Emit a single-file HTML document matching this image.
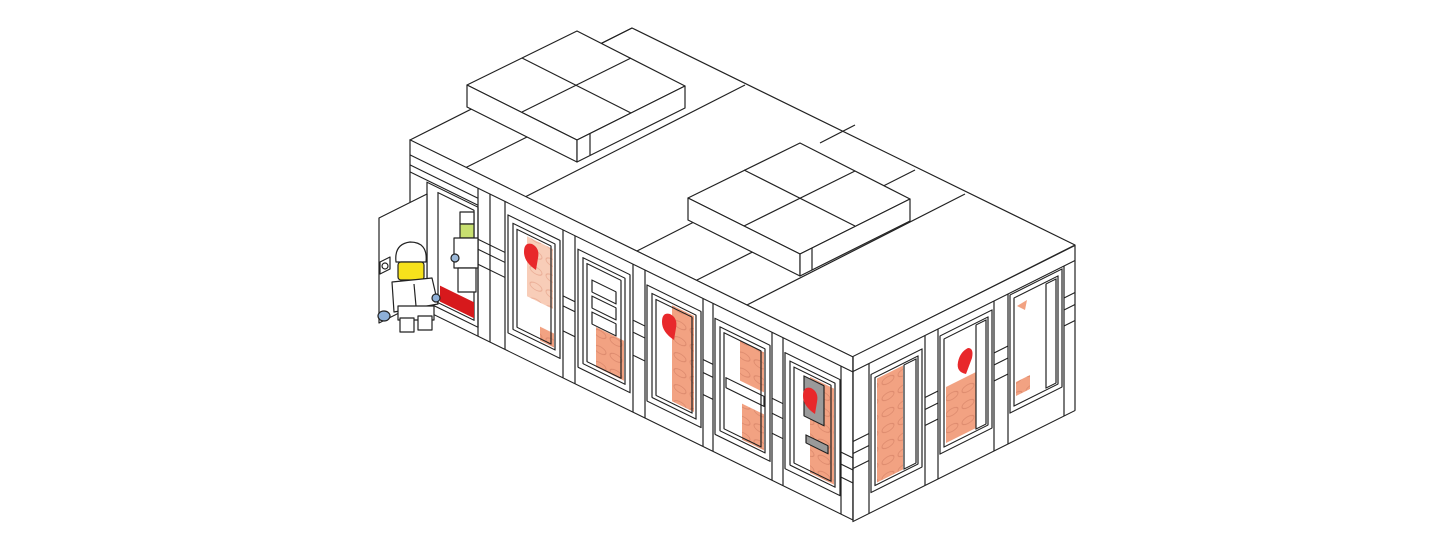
<!DOCTYPE html>
<html><head><meta charset="utf-8"><style>
html,body{margin:0;padding:0;background:#fff;}
svg{display:block;}
</style></head><body>
<svg width="1456" height="546" viewBox="0 0 1456 546" xmlns="http://www.w3.org/2000/svg" fill="none" stroke="#222" stroke-width="1.2" stroke-linejoin="round">
<defs>
<pattern id="studs" width="16" height="16" patternUnits="userSpaceOnUse">
<rect width="16" height="16" fill="#f2a282" stroke="none"/>
<ellipse cx="8" cy="8" rx="6" ry="3.5" fill="none" stroke="#d9866a" stroke-width="0.8"/>
</pattern>
<pattern id="studsl" width="16" height="16" patternUnits="userSpaceOnUse">
<rect width="16" height="16" fill="#f8cdb8" stroke="none"/>
<ellipse cx="8" cy="8" rx="6" ry="3.5" fill="none" stroke="#e8a890" stroke-width="0.8"/>
</pattern>
</defs>

<!-- Roof -->
<polygon points="410,140 632,28 1075,245 853,357" fill="#fff"/>
<line x1="465" y1="168" x2="577" y2="112"/>
<line x1="525" y1="197" x2="745" y2="85"/>
<line x1="635" y1="252" x2="745" y2="196"/>
<line x1="695" y1="281" x2="915" y2="170"/>
<line x1="745" y1="306" x2="965" y2="194"/>
<line x1="820" y1="143" x2="855" y2="125"/>
<line x1="600" y1="44" x2="632" y2="28"/>

<!-- Raised block 1 -->
<polygon points="467,85 577,31 685,86 577,140" fill="#fff"/>
<polygon points="467,85 577,140 577,162 467,107" fill="#fff"/>
<polygon points="577,140 685,86 685,108 577,162" fill="#fff"/>
<line x1="522" y1="58" x2="631" y2="113"/>
<line x1="522" y1="112" x2="631" y2="58"/>
<line x1="590" y1="155" x2="590" y2="133"/>
<!-- Raised block 2 -->
<polygon points="688,198 800,143 910,199 800,254" fill="#fff"/>
<polygon points="688,198 800,254 800,276 688,220" fill="#fff"/>
<polygon points="800,254 910,199 910,221 800,276" fill="#fff"/>
<line x1="744" y1="170" x2="855" y2="226"/>
<line x1="744" y1="226" x2="855" y2="171"/>
<line x1="812" y1="270" x2="812" y2="248"/>

<!-- Long (left) face: y' = y - 0.49x -->
<g transform="matrix(1,0.49,0,1,0,0)">
<rect x="410" y="-61" width="443" height="163" fill="#fff"/>
<line x1="410" y1="-46" x2="853" y2="-46"/>
<line x1="410" y1="-36" x2="478" y2="-36"/>
<line x1="410" y1="-29" x2="478" y2="-29"/>
<!-- doorway -->
<rect x="427" y="-27" width="51" height="120" fill="#fff"/>
<rect x="438" y="-22" width="36" height="110" fill="#fff"/>
<polygon points="440,70 474,70 474,86 440,86" fill="#d7191c" stroke="none"/>
<!-- pillars -->
<line x1="478" y1="-46" x2="478" y2="102"/>
<line x1="490" y1="-46" x2="490" y2="102"/>
<line x1="505" y1="-46" x2="505" y2="102"/>
<line x1="563" y1="-46" x2="563" y2="102"/>
<line x1="575" y1="-46" x2="575" y2="102"/>
<line x1="633" y1="-46" x2="633" y2="102"/>
<line x1="645" y1="-46" x2="645" y2="102"/>
<line x1="703" y1="-46" x2="703" y2="102"/>
<line x1="713" y1="-46" x2="713" y2="102"/>
<line x1="772" y1="-46" x2="772" y2="102"/>
<line x1="783" y1="-46" x2="783" y2="102"/>
<line x1="841" y1="-46" x2="841" y2="102"/>
<!-- band lines -->
<g>
<line x1="478" y1="5" x2="505" y2="5"/><line x1="478" y1="15" x2="505" y2="15"/><line x1="478" y1="30" x2="505" y2="30"/>
<line x1="563" y1="20" x2="575" y2="20"/><line x1="563" y1="30" x2="575" y2="30"/><line x1="563" y1="55" x2="575" y2="55"/>
<line x1="633" y1="10" x2="645" y2="10"/><line x1="633" y1="22" x2="645" y2="22"/><line x1="633" y1="45" x2="645" y2="45"/>
<line x1="703" y1="15" x2="713" y2="15"/><line x1="703" y1="28" x2="713" y2="28"/><line x1="703" y1="50" x2="713" y2="50"/>
<line x1="772" y1="20" x2="783" y2="20"/><line x1="772" y1="35" x2="783" y2="35"/><line x1="772" y1="55" x2="783" y2="55"/>
<line x1="841" y1="40" x2="853" y2="40"/><line x1="841" y1="52" x2="853" y2="52"/><line x1="841" y1="65" x2="853" y2="65"/>
</g>
<!-- windows -->
<g>
<rect x="508" y="-34" width="52" height="118" fill="#fff"/>
<rect x="513" y="-28" width="42" height="106" fill="#fff"/>
<rect x="527" y="-22" width="26" height="60" fill="url(#studsl)" stroke="none"/>
<rect x="540" y="62" width="14" height="14" fill="url(#studs)" stroke="none"/>
<rect x="517" y="-24" width="34" height="98"/>

<rect x="578" y="-34" width="52" height="118" fill="#fff"/>
<rect x="583" y="-28" width="42" height="106" fill="#fff"/>
<rect x="596" y="35" width="28" height="40" fill="url(#studs)" stroke="none"/>
<rect x="592" y="-10" width="24" height="12"/><rect x="592" y="6" width="24" height="12"/><rect x="592" y="22" width="24" height="12"/>
<rect x="587" y="-24" width="34" height="98"/>

<rect x="647" y="-32" width="54" height="116" fill="#fff"/>
<rect x="652" y="-26" width="44" height="104" fill="#fff"/>
<rect x="672" y="-24" width="22" height="96" fill="url(#studs)" stroke="none"/>
<rect x="656" y="-22" width="36" height="96"/>

<rect x="715" y="-32" width="55" height="116" fill="#fff"/>
<rect x="720" y="-26" width="45" height="104" fill="#fff"/>
<rect x="740" y="-22" width="24" height="40" fill="url(#studs)" stroke="none"/>
<rect x="742" y="40" width="22" height="36" fill="url(#studs)" stroke="none"/>
<rect x="726" y="22" width="38" height="10"/>
<rect x="724" y="-22" width="37" height="96"/>

<rect x="785" y="-32" width="55" height="116" fill="#fff"/>
<rect x="790" y="-26" width="45" height="104" fill="#fff"/>
<rect x="810" y="-20" width="24" height="96" fill="url(#studs)" stroke="none"/>
<rect x="804" y="-18" width="20" height="40" fill="#9a9a9a"/>
<rect x="806" y="40" width="22" height="8" fill="#9a9a9a"/>
<rect x="794" y="-22" width="37" height="96"/>
</g>
</g>

<!-- Right face: y' = y + 0.5x -->
<g transform="matrix(1,-0.5,0,1,0,0)">
<rect x="853" y="783" width="222" height="165" fill="#fff"/>
<line x1="853" y1="798" x2="1075" y2="798"/>
<line x1="869" y1="798" x2="869" y2="948"/>
<line x1="925" y1="798" x2="925" y2="948"/>
<line x1="938" y1="798" x2="938" y2="948"/>
<line x1="994" y1="798" x2="994" y2="948"/>
<line x1="1008" y1="798" x2="1008" y2="948"/>
<line x1="1064" y1="798" x2="1064" y2="948"/>
<line x1="853" y1="868" x2="869" y2="868"/><line x1="853" y1="880" x2="869" y2="880"/><line x1="853" y1="895" x2="869" y2="895"/>
<line x1="925" y1="860" x2="938" y2="860"/><line x1="925" y1="872" x2="938" y2="872"/><line x1="925" y1="888" x2="938" y2="888"/>
<line x1="994" y1="850" x2="1008" y2="850"/><line x1="994" y1="862" x2="1008" y2="862"/><line x1="994" y1="878" x2="1008" y2="878"/>
<line x1="1064" y1="830" x2="1075" y2="830"/><line x1="1064" y1="842" x2="1075" y2="842"/><line x1="1064" y1="858" x2="1075" y2="858"/>

<rect x="871" y="810" width="51" height="118" fill="#fff"/>
<rect x="875" y="815" width="43" height="108" fill="#fff"/>
<rect x="877" y="817" width="26" height="104" fill="url(#studs)" stroke="none"/>
<rect x="904" y="817" width="12" height="104"/>

<rect x="940" y="806" width="52" height="118" fill="#fff"/>
<rect x="944" y="811" width="44" height="108" fill="#fff"/>
<rect x="946" y="860" width="30" height="56" fill="url(#studs)" stroke="none"/>
<rect x="976" y="813" width="10" height="104"/>

<rect x="1010" y="800" width="52" height="118" fill="#fff"/>
<rect x="1014" y="805" width="44" height="108" fill="#fff"/>
<rect x="1016" y="890" width="14" height="14" fill="url(#studs)" stroke="none"/>
<rect x="1046" y="807" width="10" height="104"/>
</g>
<line x1="853" y1="357" x2="853" y2="520"/>

<!-- hearts -->
<g fill="#e8282b" stroke="none">
<path d="M524,252 q0,-10 8,-8 q8,4 6,14 l-2,12 q-12,-8 -12,-18z"/>
<path d="M662,322 q0,-10 8,-8 q8,4 6,14 l-2,12 q-12,-8 -12,-18z"/>
<path d="M803,396 q0,-10 8,-8 q8,4 6,14 l-2,12 q-12,-8 -12,-18z"/>
<path d="M958,362 q2,-10 10,-14 q6,0 4,10 l-6,16 q-10,-2 -8,-12z"/>
<path d="M1017,306 l10,-6 l-2,10z" fill="#f2a282"/>
</g>

<!-- Door panel -->
<polygon points="379,218 427,194 427,299 379,323" fill="#fff"/>
<polygon points="380,262 390,257 390,269 380,274" fill="#fff"/>
<circle cx="385" cy="266" r="3"/>

<!-- Minifig inside doorway -->
<g>
<rect x="460" y="212" width="14" height="12" fill="#fff"/>
<rect x="460" y="224" width="14" height="14" fill="#c8e070"/>
<rect x="454" y="238" width="24" height="30" fill="#fff"/>
<rect x="458" y="268" width="18" height="24" fill="#fff"/>
<ellipse cx="455" cy="258" rx="4" ry="4" fill="#9bb8d8"/>
</g>

<!-- Minifig outside -->
<g>
<path d="M396,262 q-2,-18 14,-20 q18,0 16,20z" fill="#fff"/>
<rect x="398" y="262" width="26" height="18" rx="3" fill="#f7e21c"/>
<path d="M392,282 l40,-4 l6,26 l-44,8z" fill="#fff"/>
<rect x="398" y="306" width="36" height="14" fill="#fff"/>
<rect x="400" y="318" width="14" height="14" fill="#fff"/>
<rect x="418" y="316" width="14" height="14" fill="#fff"/>
<ellipse cx="384" cy="316" rx="6" ry="5" fill="#8eb0d8"/>
<ellipse cx="436" cy="298" rx="4" ry="4" fill="#8eb0d8"/>
<line x1="414" y1="284" x2="416" y2="306"/>
</g>
</svg>
</body></html>
